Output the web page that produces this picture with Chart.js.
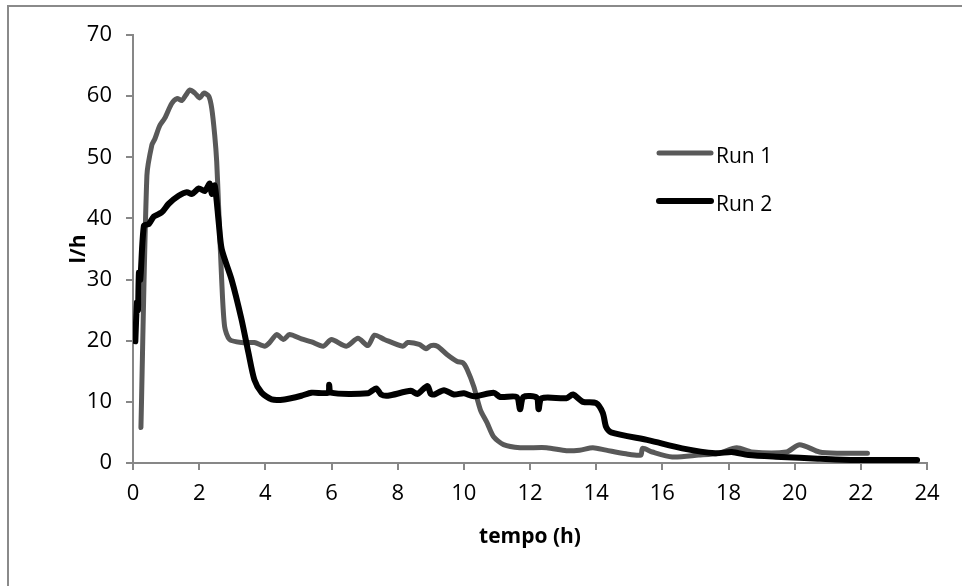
<html lang="pt">
<head>
    <meta charset="UTF-8">
    <title>Run 1 / Run 2 - l/h vs tempo</title>
    <script src="https://cdn.jsdelivr.net/npm/chart.js@4.4.0"></script>
    <style>
        body { margin: 0; background: #fff; }
        canvas { display: block; }
    </style>
</head>
<body>
    <canvas id="myChart" width="962" height="586"></canvas>
    <script>
        // values
        const run1Time = [0.24, 0.42, 0.57, 0.66, 0.81, 0.96, 1.17, 1.33, 1.48, 1.6, 1.72, 1.87, 2.02, 2.14, 2.29, 2.38,
            2.47, 2.53, 2.59, 2.68, 2.77, 2.92, 3.28, 3.67, 3.98, 4.13, 4.34, 4.55, 4.73, 5.09, 5.4, 5.75, 6.0, 6.45,
            6.8, 7.1, 7.3, 7.6, 8.16, 8.3, 8.65, 8.86, 9.0, 9.2, 9.5, 9.8, 9.97, 10.1, 10.3, 10.5, 10.7, 10.9, 11.2,
            11.7, 12.5, 13.1, 13.5, 13.9, 14.3, 14.9, 15.35, 15.4, 15.7, 16.3, 17.1, 17.7, 18.25, 18.7, 19.75, 20.15,
            20.75, 21.35, 22.2];
        const run1Flow = [5.8, 47, 52, 53, 55.2, 56.4, 58.8, 59.6, 59.3, 60.2, 61, 60.5, 59.7, 60.5, 60, 58,
            53.6, 49.3, 41.6, 30, 22.3, 20.2, 19.7, 19.7, 19.1, 19.7, 21, 20.2, 21, 20.3, 19.8, 19.1, 20.2, 19.1,
            20.4, 19.2, 20.9, 20.2, 19.1, 19.7, 19.4, 18.7, 19.2, 19.1, 17.7, 16.6, 16.4, 15.3, 12.5, 8.7, 6.6, 4.3, 3.0,
            2.5, 2.5, 2.0, 2.1, 2.5, 2.1, 1.5, 1.3, 2.4, 1.8, 1.0, 1.3, 1.6, 2.5, 1.8, 1.8, 3.0,
            1.8, 1.6, 1.6];

        const run2Time = [0.07, 0.12, 0.15, 0.18, 0.22, 0.33, 0.48, 0.63, 0.87, 1.08, 1.38, 1.63, 1.78, 1.99, 2.17, 2.32,
            2.38, 2.47, 2.59, 2.68, 2.98, 3.28, 3.49, 3.67, 3.89, 4.19, 4.58, 5.09, 5.39, 5.9, 5.93, 5.98, 7.1, 7.35,
            7.5, 7.7, 8.4, 8.6, 8.9, 9.0, 9.1, 9.4, 9.7, 10.0, 10.3, 10.9, 11.1, 11.6, 11.7, 11.8, 12.2, 12.26, 12.35,
            13.1, 13.3, 13.6, 14.0, 14.2, 14.3, 14.45, 15.6, 16.6, 17.6, 18.1, 18.6, 19.6, 20.7, 21.7, 23.7];
        const run2Flow = [19.9, 26.3, 25, 31.2, 30, 38.8, 39.1, 40.3, 41, 42.4, 43.7, 44.3, 44, 44.9, 44.5, 45.7,
            44, 45.4, 39.4, 35, 30, 23.5, 18, 13.6, 11.5, 10.4, 10.4, 11, 11.5, 11.5, 12.8, 11.5, 11.4, 12.2,
            11.2, 11, 11.8, 11.3, 12.6, 11.3, 11.2, 11.9, 11.2, 11.4, 10.9, 11.5, 10.8, 10.8, 8.8, 10.8, 10.7, 8.8, 10.6,
            10.6, 11.2, 10.0, 9.8, 8.2, 5.9, 5.0, 3.7, 2.4, 1.6, 1.8, 1.3, 1.0, 0.7, 0.5, 0.5];

        const seriesNames = ['Run 1', 'Run 2'];
        const xTicks = [0, 24, 2];   // min, max, step
        const yTicks = [0, 70, 10];

        const FONT = '"Open Sans", "Liberation Sans", sans-serif';
        const AXIS_GREY = '#878787';

        const toPoints = (t, v) => t.map((x, i) => ({ x: x, y: v[i] }));

        // frame round the picture + legend drawn inside the plot
        const decorPlugin = {
            id: 'decor',
            beforeDraw(chart) {
                const c = chart.ctx;
                c.save();
                c.strokeStyle = '#8a8a8a';
                c.lineWidth = 2;
                c.beginPath();
                c.moveTo(8, 600);
                c.lineTo(8, 6);
                c.lineTo(970, 6);
                c.stroke();
                c.restore();
            },
            afterDraw(chart) {
                const c = chart.ctx;
                const rows = [153, 201];
                c.save();
                chart.data.datasets.forEach((ds, i) => {
                    c.strokeStyle = ds.borderColor;
                    c.lineWidth = ds.borderWidth;
                    c.lineCap = 'round';
                    c.beginPath();
                    c.moveTo(659, rows[i]);
                    c.lineTo(711, rows[i]);
                    c.stroke();
                    c.fillStyle = '#000';
                    c.font = '21px ' + FONT;
                    c.textBaseline = 'alphabetic';
                    c.fillText(ds.label, 716, rows[i] + 10);
                });
                c.restore();
            }
        };

        const ctx = document.getElementById('myChart').getContext('2d');
        const myChart = new Chart(ctx, {
            type: 'line',
            data: {
                datasets: [{
                    label: seriesNames[0],
                    data: toPoints(run1Time, run1Flow),
                    borderColor: '#595959',
                    borderWidth: 5,
                    order: 2
                }, {
                    label: seriesNames[1],
                    data: toPoints(run2Time, run2Flow),
                    borderColor: '#000000',
                    borderWidth: 6,
                    order: 1
                }]
            },
            options: {
                responsive: false,
                animation: false,
                events: [],
                elements: {
                    point: { radius: 0 },
                    line: { tension: 0.25, borderCapStyle: 'round', borderJoinStyle: 'round', fill: false }
                },
                layout: { padding: { top: 35, right: 35, left: 0, bottom: 0 } },
                scales: {
                    x: {
                        type: 'linear',
                        min: xTicks[0],
                        max: xTicks[1],
                        ticks: { stepSize: xTicks[2], color: '#000', font: { family: FONT, size: 22 }, padding: 11, maxRotation: 0 },
                        grid: { drawOnChartArea: false, drawTicks: true, tickLength: 7, color: AXIS_GREY, lineWidth: 2 },
                        border: { color: AXIS_GREY, width: 2 },
                        title: {
                            display: true,
                            text: 'tempo (h)',
                            color: '#000',
                            font: { family: FONT, size: 21, weight: 'bold' },
                            padding: { top: 0, bottom: 36 }
                        },
                        afterFit: s => { s.height = 123; }
                    },
                    y: {
                        min: yTicks[0],
                        max: yTicks[1],
                        ticks: { stepSize: yTicks[2], color: '#000', font: { family: FONT, size: 22 }, padding: 14 },
                        grid: { drawOnChartArea: false, drawTicks: true, tickLength: 7, color: AXIS_GREY, lineWidth: 2 },
                        border: { color: AXIS_GREY, width: 2 },
                        title: {
                            display: true,
                            text: 'l/h',
                            color: '#000',
                            font: { family: FONT, size: 21, weight: 'bold' },
                            padding: { top: 66, bottom: 0 }
                        },
                        afterFit: s => { s.width = 133; }
                    }
                },
                plugins: {
                    legend: { display: false },
                    tooltip: { enabled: false }
                }
            },
            plugins: [decorPlugin]
        });
    </script>
</body>
</html>
